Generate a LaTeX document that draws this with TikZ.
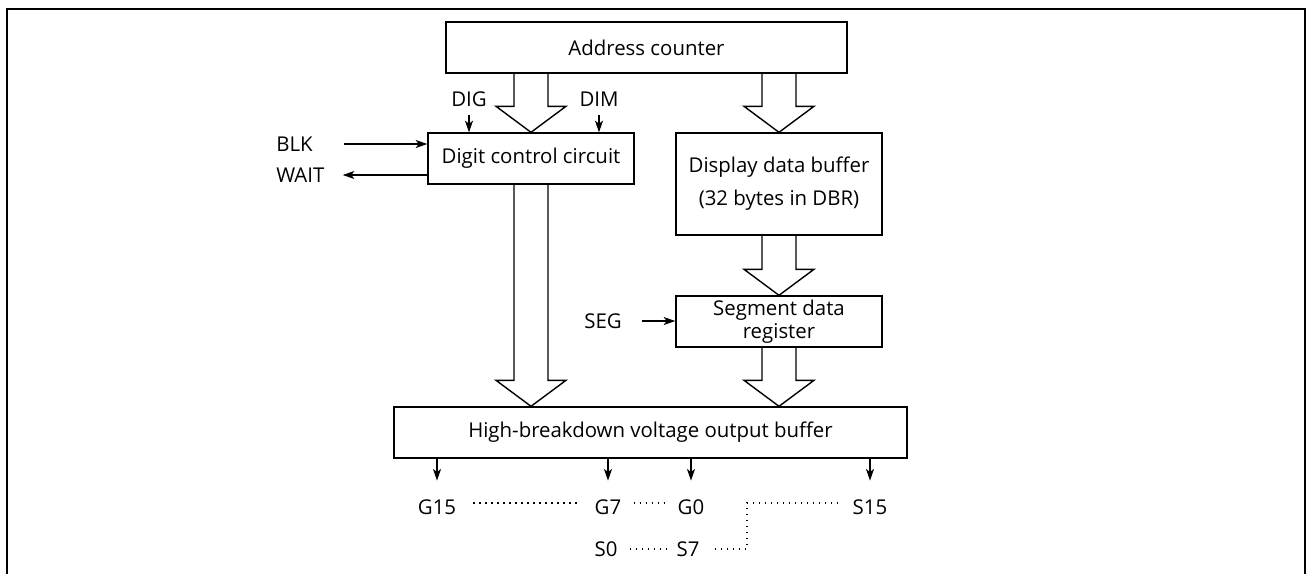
\documentclass[tikz,border=0pt]{standalone}
\usepackage{fontspec}
\setmainfont{Open Sans}
\usetikzlibrary{arrows.meta,calc}

\tikzset{
  blok/.style={draw, line width=0.7pt, inner sep=0pt, align=center},
  bus/.style={draw, line width=0.7pt, line join=miter},
  sig/.style={-{Stealth[length=5.8pt,width=4pt,inset=1.5pt]}, line width=0.65pt},
  pin/.style={inner sep=0pt, text height=7.5pt, text depth=0pt},
  dotline/.style={line width=0.75pt, dash pattern=on 0.75pt off 2.25pt},
}

% freccia larga (bus) da #1 a #2
\newcommand{\busarrow}[2]{%
  \draw[bus] ($#1+(-17,0)$) -- ($#2+(-17,-26)$) -- ($#2+(-35,-26)$) -- #2
    -- ($#2+(35,-26)$) -- ($#2+(17,-26)$) -- ($#1+(17,0)$);}

\begin{document}
\begin{tikzpicture}[x=0.5pt, y=-0.5pt, font=\fontsize{10.2}{11.5}\selectfont]
    \useasboundingbox (0,0) rectangle (1308,574);

    % Cornice
    \draw[line width=1.1pt] (7,574) -- (7,9) -- (1305,9) -- (1305,574);

    % Blocchi
    \node[blok, minimum width=200.5pt, minimum height=25.5pt] (addr) at (646.5,47.5) {Address counter};
    \node[blok, minimum width=103pt, minimum height=25.5pt] (dcc) at (531,158.5) {Digit control circuit};
    \node[blok, minimum width=103pt, minimum height=51pt] (ddb) at (779,184) {Display data buffer\\[5pt](32 bytes in DBR)};
    \node[blok, minimum width=103pt, minimum height=25.5pt] (sdr) at (779,321.5) {Segment data\\register};
    \node[blok, minimum width=256.5pt, minimum height=25.5pt] (hvb) at (650.5,432.5) {High-breakdown voltage output buffer};

    % Bus
    \busarrow{(addr.south -| dcc.north)}{(dcc.north)}
    \busarrow{(addr.south -| ddb.north)}{(ddb.north)}
    \busarrow{(ddb.south)}{(sdr.north)}
    \busarrow{(dcc.south)}{(dcc.south |- hvb.north)}
    \busarrow{(sdr.south)}{(sdr.south |- hvb.north)}

    % Segnali di controllo
    \node[pin] (dig) at (469,99) {DIG};
    \node[pin] (dim) at (599,99) {DIM};
    \draw[sig, shorten <=4pt] (dig.south) -- (dig.south |- dcc.north);
    \draw[sig, shorten <=4pt] (dim.south) -- (dim.south |- dcc.north);

    \node[pin, anchor=west] (blk) at (276,144) {BLK};
    \node[pin, anchor=west] (wait) at (276,175) {WAIT};
    \draw[sig, shorten <=15.5pt] (blk.east) -- (blk.east -| dcc.west);
    \draw[sig, shorten >=9pt] (wait.east -| dcc.west) -- (wait.east);

    \node[pin] (seg) at (603,321) {SEG};
    \draw[sig, shorten <=10pt] (seg.east) -- (seg.east -| sdr.west);

    % Uscite
    \node[pin] (g15) at (437,507) {G15};
    \node[pin] (g7) at (608,507) {G7};
    \node[pin] (g0) at (691,507) {G0};
    \node[pin] (s15) at (870,507) {S15};
    \node[pin] (s0) at (606,549) {S0};
    \node[pin] (s7) at (688,549) {S7};
    \foreach \n in {g15,g7,g0,s15}
        \draw[sig, shorten >=9.25pt] (hvb.south -| \n.north) -- (\n.north);

    % Punteggiato
    \draw[dotline] ([xshift=8.5pt,yshift=2pt]g15.east) -- ([xshift=-6.5pt,yshift=2pt]g7.west);
    \draw[dotline] ([xshift=6pt,yshift=2pt]g7.east) -- ([xshift=-6.5pt,yshift=2pt]g0.west);
    \draw[dotline] ([xshift=6pt]s0.east) -- ([xshift=-5pt]s7.west);
    \draw[dotline] ([xshift=7.5pt]s7.east) -- ++(32,0) |- ([xshift=-6pt,yshift=2pt]s15.west);

\end{tikzpicture}
\end{document}
